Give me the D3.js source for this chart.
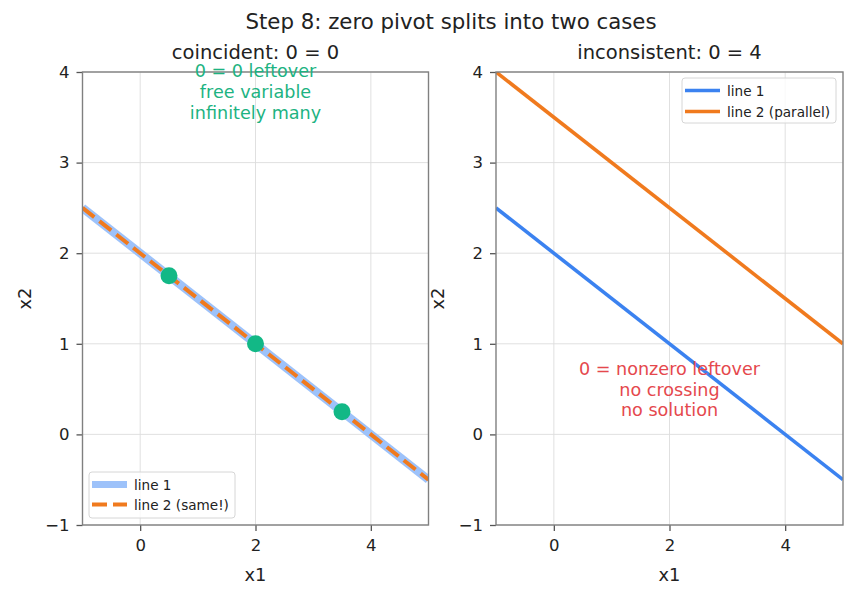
<!DOCTYPE html>
<html>
<head>
<meta charset="utf-8">
<script src="https://cdn.jsdelivr.net/npm/d3@7"></script>
<style>
  body { margin: 0; background: #fff; }
  svg { font-family: "DejaVu Sans", sans-serif; }
</style>
</head>
<body>
<script>
"use strict";

// data
var xDomain = [-1, 5],
    yDomain = [-1, 4],
    xTicks = [0, 2, 4],
    yTicks = [-1, 0, 1, 2, 3, 4],
    lineX = [-1, 5],
    line1Y = [2.5, -0.5],          // x1 + 2 x2 = 4
    line2SameY = [2.5, -0.5],      // 2 x1 + 4 x2 = 8
    line2ParallelY = [4, 1],       // x1 + 2 x2 = 7
    pointsX = [0.5, 2, 3.5],
    pointsY = [1.75, 1, 0.25],
    leftNote = ["0 = 0 leftover", "free variable", "infinitely many"],
    rightNote = ["0 = nonzero leftover", "no crossing", "no solution"];

var W = 856, H = 598,
    plotTop = 72, plotBottom = 525;

var svg = d3.select("body").append("svg")
    .attr("width", W)
    .attr("height", H);

svg.append("text")
    .attr("x", 451).attr("y", 29)
    .attr("text-anchor", "middle")
    .style("font-size", "21.3px")
    .attr("fill", "#222")
    .text("Step 8: zero pivot splits into two cases");

function panel(left, right, title) {
    var x = d3.scaleLinear().domain(xDomain).range([left, right]);
    var y = d3.scaleLinear().domain(yDomain).range([plotBottom, plotTop]);
    var g = svg.append("g");

    // grid
    g.selectAll(".gx").data(xTicks).enter().append("line")
        .attr("x1", function (d) { return x(d); })
        .attr("x2", function (d) { return x(d); })
        .attr("y1", plotTop).attr("y2", plotBottom)
        .attr("stroke", "#dcdcdc").attr("stroke-width", 0.9);
    g.selectAll(".gy").data(yTicks).enter().append("line")
        .attr("y1", function (d) { return y(d); })
        .attr("y2", function (d) { return y(d); })
        .attr("x1", left).attr("x2", right)
        .attr("stroke", "#dcdcdc").attr("stroke-width", 0.9);

    var clip = "clip" + Math.round(left);
    g.append("clipPath").attr("id", clip).append("rect")
        .attr("x", left).attr("y", plotTop)
        .attr("width", right - left).attr("height", plotBottom - plotTop);

    var plot = g.append("g").attr("clip-path", "url(#" + clip + ")");

    // axes
    var fmt = function (d) { return d < 0 ? "\u2212" + Math.abs(d) : d; };
    var xa = g.append("g").attr("transform", "translate(0," + plotBottom + ")")
        .call(d3.axisBottom(x).tickValues(xTicks).tickFormat(fmt).tickSize(6).tickPadding(8));
    var ya = g.append("g").attr("transform", "translate(" + left + ",0)")
        .call(d3.axisLeft(y).tickValues(yTicks).tickFormat(fmt).tickSize(6).tickPadding(7));
    [xa, ya].forEach(function (a) {
        a.select(".domain").remove();
        a.selectAll("line").attr("stroke", "#555").attr("stroke-width", 1.3);
        a.selectAll("text").style("font-size", "16.5px").attr("fill", "#222")
            .attr("font-family", "DejaVu Sans");
    });

    g.append("rect")
        .attr("x", left).attr("y", plotTop)
        .attr("width", right - left).attr("height", plotBottom - plotTop)
        .attr("fill", "none").attr("stroke", "#808080").attr("stroke-width", 1.4);

    g.append("text")
        .attr("x", (left + right) / 2).attr("y", 59)
        .attr("text-anchor", "middle")
        .style("font-size", "19.5px").attr("fill", "#222")
        .text(title);
    g.append("text")
        .attr("x", (left + right) / 2).attr("y", 581)
        .attr("text-anchor", "middle")
        .style("font-size", "17.8px").attr("fill", "#222")
        .text("x1");
    g.append("text")
        .attr("transform", "translate(" + (left - 52) + "," + ((plotTop + plotBottom) / 2) + ") rotate(-90)")
        .attr("text-anchor", "middle")
        .style("font-size", "17.8px").attr("fill", "#222")
        .text("x2");

    return { x: x, y: y, g: g, plot: plot };
}

function drawLine(p, ys, color, w, dash) {
    var pts = lineX.map(function (d, i) { return [d, ys[i]]; });
    p.plot.append("path")
        .datum(pts)
        .attr("d", d3.line().x(function (d) { return p.x(d[0]); }).y(function (d) { return p.y(d[1]); }))
        .attr("fill", "none")
        .attr("stroke", color)
        .attr("stroke-width", w)
        .attr("stroke-dasharray", dash || null);
}

function legend(p, x0, y0, w, h, gap, items) {
    var lg = p.g.append("g").attr("transform", "translate(" + x0 + "," + y0 + ")");
    lg.append("rect")
        .attr("width", w).attr("height", h).attr("rx", 3)
        .attr("fill", "#fff").attr("fill-opacity", 0.8)
        .attr("stroke", "#d6d6d6");
    items.forEach(function (it, i) {
        var yy = 12.5 + i * gap;
        lg.append("line")
            .attr("x1", 3).attr("x2", 38).attr("y1", yy).attr("y2", yy)
            .attr("stroke", it.color).attr("stroke-width", it.w)
            .attr("stroke-dasharray", it.dash || null);
        lg.append("text")
            .attr("x", 45).attr("y", yy + 5)
            .style("font-size", "13.6px").attr("fill", "#222")
            .text(it.label);
    });
}

// left: coincident
var L = panel(82.5, 428.5, "coincident: 0 = 0");
drawLine(L, line1Y, "#9dc2fa", 8.5);
drawLine(L, line2SameY, "#f07a1e", 4, "15,6.5");
L.plot.selectAll("circle").data(pointsX).enter().append("circle")
    .attr("cx", function (d) { return L.x(d); })
    .attr("cy", function (d, i) { return L.y(pointsY[i]); })
    .attr("r", 8.5)
    .attr("fill", "#12b886");
L.g.selectAll(".note").data(leftNote).enter().append("text")
    .attr("x", L.x(2))
    .attr("y", function (d, i) { return 77 + i * 21; })
    .attr("text-anchor", "middle")
    .style("font-size", "17.6px").attr("fill", "#1db382")
    .text(function (d) { return d; });
legend(L, 89, 472, 146, 46, 20, [
    { label: "line 1", color: "#9dc2fa", w: 7 },
    { label: "line 2 (same!)", color: "#f07a1e", w: 4, dash: "15,6" }
]);

// right: inconsistent
var R = panel(496, 843, "inconsistent: 0 = 4");
drawLine(R, line1Y, "#3b82f0", 3.6);
drawLine(R, line2ParallelY, "#f07a1e", 3.6);
R.g.selectAll(".note").data(rightNote).enter().append("text")
    .attr("x", R.x(2))
    .attr("y", function (d, i) { return 375 + i * 20.5; })
    .attr("text-anchor", "middle")
    .style("font-size", "17.6px").attr("fill", "#e5484d")
    .text(function (d) { return d; });
legend(R, 682, 78, 154, 45, 21, [
    { label: "line 1", color: "#3b82f0", w: 3.6 },
    { label: "line 2 (parallel)", color: "#f07a1e", w: 3.6 }
]);
</script>
</body>
</html>
